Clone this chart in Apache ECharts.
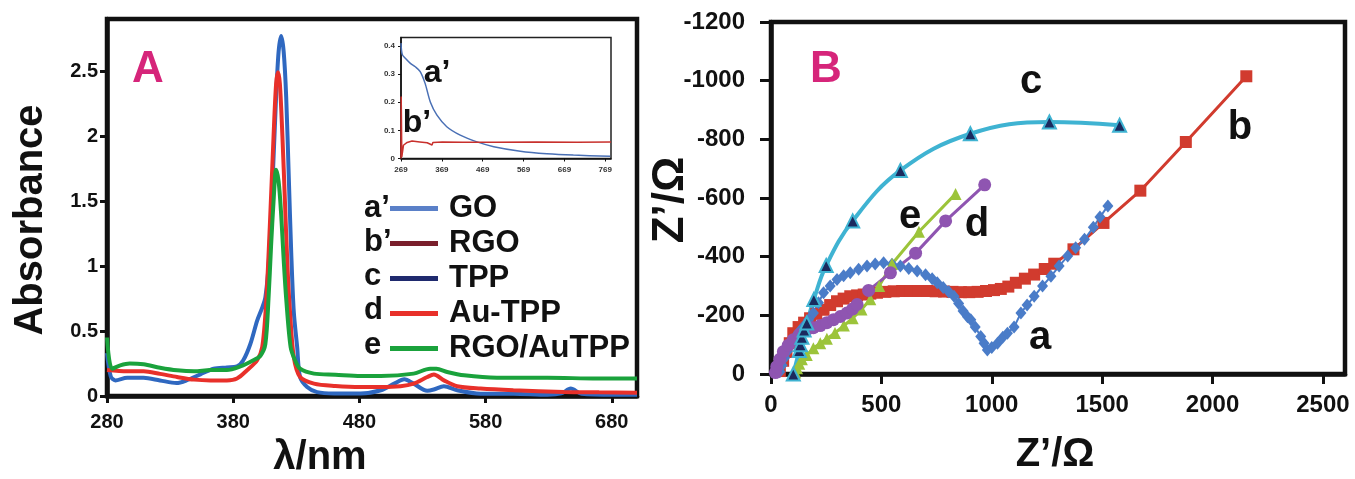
<!DOCTYPE html>
<html>
<head>
<meta charset="utf-8">
<script src="https://cdn.jsdelivr.net/npm/echarts@6/dist/echarts.min.js"></script>
<style>html,body{margin:0;padding:0;background:#fff}#c{width:1355px;height:479px}</style>
</head>
<body>
<div id="c"></div>
<script>
// ---------- Panel A: UV-vis (wavelength nm, absorbance) ----------
const tpp = [[280,0.33],[283,0.15],[286.6,0.12],[296,0.14],[309,0.14],[322,0.12],[335,0.10],[343,0.12],[354,0.167],[364.5,0.21],[375,0.22],[383,0.228],[388,0.275],[393.6,0.40],[399,0.58],[403,0.68],[405.5,0.76],[408,1.0],[411,1.6],[414,2.3],[416,2.65],[418,2.77],[420,2.65],[422,2.3],[424,1.7],[426,1.1],[428,0.65],[430.7,0.377],[433,0.146],[438.6,0.07],[446.5,0.03],[460,0.02],[481,0.02],[497,0.044],[507.6,0.095],[515.6,0.128],[523,0.095],[533.8,0.04],[539,0.05],[547,0.075],[557.5,0.044],[576,0.018],[602,0.018],[629,0.01],[640,0.02],[647.5,0.057],[656,0.018],[682,0.01],[700,0.01]];
const auTpp = [[280,0.2],[296,0.19],[309,0.19],[322,0.17],[335.5,0.146],[349,0.126],[362,0.12],[375,0.12],[383,0.134],[391,0.198],[399,0.275],[403,0.377],[406,0.7],[409,1.3],[412,2.0],[414,2.4],[415.5,2.49],[417,2.4],[419,2.0],[421,1.5],[423,1.0],[425,0.65],[428,0.3],[433,0.146],[444,0.095],[461,0.077],[481,0.069],[497,0.069],[512.6,0.075],[523,0.095],[533.8,0.146],[539,0.165],[547,0.12],[557.5,0.075],[576,0.057],[602,0.044],[642,0.031],[670,0.028],[700,0.025]];
const rgoAuTpp = [[280,0.45],[284,0.21],[290.5,0.236],[298,0.25],[309,0.244],[322,0.218],[335.5,0.198],[349,0.19],[362,0.2],[375,0.2],[385.7,0.228],[396,0.275],[401.6,0.31],[405.5,0.4],[408,0.75],[410,1.15],[412,1.5],[414,1.74],[416,1.65],[418,1.4],[420,1.05],[422,0.75],[425.5,0.377],[429,0.275],[433,0.21],[444,0.172],[461,0.164],[481,0.154],[497,0.154],[523,0.172],[536,0.21],[541,0.21],[549.6,0.185],[563,0.159],[589,0.141],[629,0.141],[668.6,0.134],[700,0.134]];
// inset
const go = [[269,0.41],[272,0.37],[279.6,0.356],[292,0.338],[304,0.326],[316,0.309],[328,0.267],[341,0.20],[357,0.154],[381,0.113],[414,0.083],[455,0.059],[496,0.042],[561,0.026],[626,0.017],[691,0.012],[781,0.008]];
const rgo = [[269,0],[269.5,0.22],[271,0.006],[275,0.047],[284,0.057],[296,0.062],[315,0.059],[333,0.056],[345,0.048],[347,0.057],[370,0.059],[420,0.058],[500,0.058],[600,0.059],[700,0.058],[783,0.059]];
const aXTicks = [280,380,480,580,680];
const aYTicks = [0,0.5,1,1.5,2,2.5];
const insetXTicks = [269,369,469,569,669,769];
const insetYTicks = [0,0.1,0.2,0.3,0.4];
const legendNames = ['GO','RGO','TPP','Au-TPP','RGO/AuTPP'];
const legendLetters = ['a\u2019','b\u2019','c','d','e'];

// ---------- Panel B: Nyquist (Z', Z'') ----------
const nyqA = [[40,-8],[50,-30],[62,-55],[75,-78],[90,-100],[105,-122],[125,-142],[147,-162],[170,-185],[192,-208],[215,-243],[238,-277],[268,-300],[299,-322],[329,-335],[359,-345],[397,-357],[435,-368],[472,-375],[510,-379],[548,-374],[586,-368],[624,-360],[662,-351],[700,-338],[730,-325],[753,-311],[780,-295],[805,-280],[829,-265],[850,-240],[870,-215],[890,-195],[905,-185],[925,-160],[950,-128],[965,-105],[980,-82],[1000,-90],[1026,-105],[1050,-125],[1071,-139],[1101,-160],[1132,-208],[1160,-235],[1192,-265],[1230,-300],[1268,-333],[1305,-368],[1344,-402],[1380,-430],[1420,-459],[1460,-500],[1490,-535],[1526,-573]];
const nyqB = [[40,-10],[55,-45],[70,-75],[85,-105],[101,-139],[125,-160],[150,-175],[177,-190],[205,-205],[238,-219],[268,-235],[299,-248],[329,-257],[359,-265],[390,-268],[420,-271],[450,-274],[480,-277],[518,-280],[556,-282],[594,-283],[632,-283],[670,-283],[708,-283],[746,-282],[784,-281],[822,-280],[860,-279],[898,-279],[936,-280],[974,-283],[1010,-286],[1041,-290],[1075,-298],[1109,-311],[1150,-325],[1192,-339],[1240,-358],[1283,-376],[1370,-425],[1506,-515],[1673,-625],[1879,-791],[2153,-1015]];
const nyqC = [[101,0],[128,-80],[133,-100],[140,-125],[150,-150],[162,-174],[194,-254],[250,-370],[370,-522],[586,-694],[903,-819],[1261,-859],[1579,-848]];
const nyqD = [[20,-5],[26,-25],[40,-50],[56,-76],[78,-98],[101,-117],[130,-135],[162,-151],[192,-158],[223,-165],[253,-175],[283,-185],[314,-196],[344,-208],[370,-222],[390,-237],[442,-285],[541,-345],[655,-412],[791,-522],[968,-645]];
const nyqE = [[110,-5],[118,-20],[128,-35],[140,-50],[162,-65],[192,-88],[223,-105],[253,-120],[290,-140],[330,-165],[370,-190],[410,-220],[450,-255],[490,-300],[548,-375],[670,-485],[836,-614]];
const bXTicks = [0,500,1000,1500,2000,2500];
const bYTicks = [-1200,-1000,-800,-600,-400,-200,0];

const FONT = '"Liberation Sans", Arial, sans-serif';
const chart = echarts.init(document.getElementById('c'), null, {renderer:'canvas'});

function valAxis(gridIndex, min, max, ticks, o) {
  return Object.assign({
    type:'value', gridIndex, min, max,
    axisLine:{show:true, onZero:false, lineStyle:{color:'#111', width:o.lw}},
    axisTick:{show:true, customValues:ticks, length:o.tl, lineStyle:{color:'#111', width:o.tw}},
    axisLabel:{customValues:ticks, margin:o.m, color:o.c||'#111', fontFamily:FONT, fontWeight:'bold', fontSize:o.fs,
               formatter: v => String(v)},
    splitLine:{show:false}
  }, o.extra||{});
}

const legendColors = ['#5a80c8','#7a1f2c','#1f2a6e','#e8302a','#1aa23c'];

const option = {
  animation:false,
  backgroundColor:'#fff',
  grid:[
    {left:107, top:19, width:530, height:377, show:true, borderColor:'#111', borderWidth:4.5, backgroundColor:'transparent'},
    {left:401, top:37.5, width:210, height:121, show:true, borderColor:'#222', borderWidth:1.5, backgroundColor:'#fff'},
    {left:771, top:22, width:574, height:352, show:true, borderColor:'#111', borderWidth:4.5, backgroundColor:'transparent'}
  ],
  xAxis:[
    valAxis(0,280,700,aXTicks,{lw:4.5,tl:7,tw:3,m:16,fs:20}),
    valAxis(1,269,783,insetXTicks,{lw:1.5,tl:3,tw:1,m:7,fs:8,c:'#333'}),
    valAxis(2,0,2600,bXTicks,{lw:4.5,tl:10,tw:3,m:19,fs:24})
  ],
  yAxis:[
    valAxis(0,0,2.9,aYTicks,{lw:4.5,tl:7,tw:3,m:9,fs:20}),
    valAxis(1,0,0.43,insetYTicks,{lw:1.5,tl:3,tw:1,m:6,fs:8,c:'#333'}),
    valAxis(2,-1200,0,bYTicks,{lw:4.5,tl:11,tw:3,m:26,fs:24,extra:{inverse:true}})
  ],
  legend:{
    left:390, top:193, orient:'vertical', padding:0, itemGap:4,
    itemWidth:48, itemHeight:5, selectedMode:false, icon:'rect',
    textStyle:{fontFamily:FONT, fontWeight:'bold', fontSize:31, lineHeight:30, color:'#111', padding:[0,0,0,6]},
    data: legendNames.map((n,i)=>({name:n, icon:'rect', itemStyle:{color:legendColors[i]}}))
  },
  series:[
    {name:'TPP', type:'line', xAxisIndex:0, yAxisIndex:0, data:tpp, showSymbol:false, smooth:0.3, lineStyle:{color:'#2f68c0', width:4}, itemStyle:{color:'#2f68c0'}},
    {name:'Au-TPP', type:'line', xAxisIndex:0, yAxisIndex:0, data:auTpp, showSymbol:false, smooth:0.3, lineStyle:{color:'#e8302a', width:4}, itemStyle:{color:'#e8302a'}},
    {name:'RGO/AuTPP', type:'line', xAxisIndex:0, yAxisIndex:0, data:rgoAuTpp, showSymbol:false, smooth:0.3, lineStyle:{color:'#1aa23c', width:4}, itemStyle:{color:'#1aa23c'}},
    {name:'GO', type:'line', xAxisIndex:1, yAxisIndex:1, data:go, showSymbol:false, smooth:0.3, lineStyle:{color:'#4a70b5', width:1.5}, itemStyle:{color:'#4a70b5'}},
    {name:'RGO', type:'line', xAxisIndex:1, yAxisIndex:1, data:rgo, showSymbol:false, lineStyle:{color:'#c8302c', width:1.5}, itemStyle:{color:'#c8302c'}},
    {name:'b', type:'line', xAxisIndex:2, yAxisIndex:2, data:nyqB, symbol:'rect', symbolSize:12, showAllSymbol:true, lineStyle:{color:'#d13b2e', width:3}, itemStyle:{color:'#d13b2e'}},
    {name:'a', type:'line', xAxisIndex:2, yAxisIndex:2, data:nyqA, symbol:'diamond', symbolSize:[11,13], showAllSymbol:true, lineStyle:{color:'#4a7cc8', width:2}, itemStyle:{color:'#4a7cc8'}},
    {name:'e', type:'line', xAxisIndex:2, yAxisIndex:2, data:nyqE, symbol:'triangle', symbolSize:12, showAllSymbol:true, lineStyle:{color:'#9cc43a', width:3}, itemStyle:{color:'#9cc43a'}},
    {name:'d', type:'line', xAxisIndex:2, yAxisIndex:2, data:nyqD, symbol:'circle', symbolSize:13, showAllSymbol:true, lineStyle:{color:'#8f55b1', width:3}, itemStyle:{color:'#8f55b1'}},
    {name:'c', type:'line', xAxisIndex:2, yAxisIndex:2, data:nyqC, symbol:'triangle', symbolSize:13, smooth:0.4, showAllSymbol:true, lineStyle:{color:'#3fb3d2', width:4}, itemStyle:{color:'#1b2a5e', borderColor:'#3fb3d2', borderWidth:2}}
  ],
  graphic:[
    {type:'text', x:148, y:70, style:{text:'A', font:'bold 44px '+FONT, fill:'#d6257a', textAlign:'center', textVerticalAlign:'middle'}},
    {type:'text', x:826, y:70, style:{text:'B', font:'bold 44px '+FONT, fill:'#d6257a', textAlign:'center', textVerticalAlign:'middle'}},
    {type:'text', x:31, y:220, rotation:Math.PI/2, style:{text:'Absorbance', font:'bold 40px '+FONT, fill:'#111', textAlign:'center', textVerticalAlign:'middle'}},
    {type:'text', x:320, y:458, style:{text:'\u03bb/nm', font:'bold 40px '+FONT, fill:'#111', textAlign:'center', textVerticalAlign:'middle'}},
    {type:'text', x:1055, y:455, style:{text:'Z\u2019/\u03a9', font:'bold 40px '+FONT, fill:'#111', textAlign:'center', textVerticalAlign:'middle'}},
    {type:'text', x:671, y:200, rotation:Math.PI/2, style:{text:'Z\u2019/\u03a9', font:'bold 44px '+FONT, fill:'#111', textAlign:'center', textVerticalAlign:'middle'}},
    {type:'text', x:437, y:73, style:{text:'a\u2019', font:'bold 32px '+FONT, fill:'#111', textAlign:'center', textVerticalAlign:'middle'}},
    {type:'text', x:417, y:123, style:{text:'b\u2019', font:'bold 32px '+FONT, fill:'#111', textAlign:'center', textVerticalAlign:'middle'}},
    {type:'text', x:1031, y:82, style:{text:'c', font:'bold 40px '+FONT, fill:'#111', textAlign:'center', textVerticalAlign:'middle'}},
    {type:'text', x:1240, y:128, style:{text:'b', font:'bold 40px '+FONT, fill:'#111', textAlign:'center', textVerticalAlign:'middle'}},
    {type:'text', x:910, y:217, style:{text:'e', font:'bold 40px '+FONT, fill:'#111', textAlign:'center', textVerticalAlign:'middle'}},
    {type:'text', x:977, y:225, style:{text:'d', font:'bold 40px '+FONT, fill:'#111', textAlign:'center', textVerticalAlign:'middle'}},
    {type:'text', x:1040, y:338, style:{text:'a', font:'bold 40px '+FONT, fill:'#111', textAlign:'center', textVerticalAlign:'middle'}}
  ].concat(legendLetters.map((t,i)=>({type:'text', x:364, y:208+i*34.3, style:{text:t, font:'bold 31px '+FONT, fill:'#111', textAlign:'left', textVerticalAlign:'middle'}})))
};
chart.setOption(option);
</script>
</body>
</html>
